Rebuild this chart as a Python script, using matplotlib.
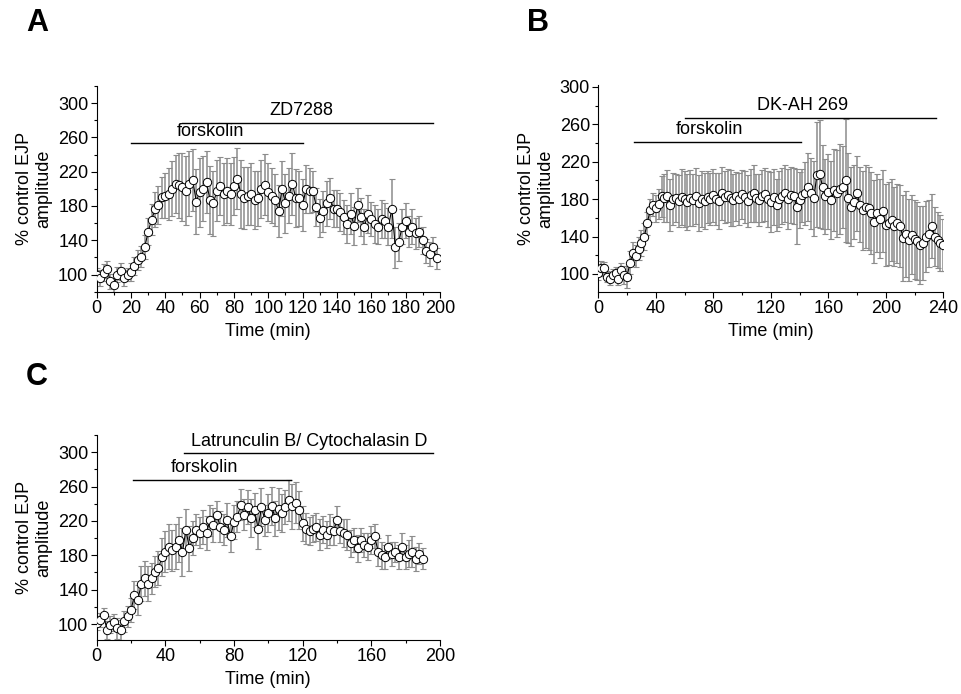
import numpy as np
import matplotlib
matplotlib.use('Agg')
import matplotlib.pyplot as plt
from matplotlib.ticker import MultipleLocator

plt.rcParams['font.family'] = ['Liberation Sans', 'DejaVu Sans']

# Panel A: forskolin + ZD7288 (sampled every 2 min)
a_time = np.arange(0, 200, 2)
a_mean = [100, 96, 102, 106, 92, 88, 100, 104, 96, 100,
          103, 110, 117, 121, 132, 150, 164, 176, 181, 190,
          192, 194, 200, 206, 204, 202, 198, 206, 210, 185,
          196, 200, 208, 187, 183, 198, 203, 194, 198, 194,
          203, 212, 194, 189, 192, 194, 187, 189, 200, 205,
          196, 192, 187, 174, 200, 183, 192, 206, 189, 189,
          181, 200, 198, 197, 179, 166, 174, 183, 189, 177,
          177, 173, 167, 159, 171, 157, 181, 167, 156, 171,
          165, 159, 156, 165, 163, 156, 177, 132, 138, 156,
          163, 150, 156, 148, 150, 140, 128, 124, 132, 119]
a_sem = [8, 9, 10, 10, 9, 8, 9, 10, 9, 8,
         10, 10, 12, 12, 14, 16, 18, 20, 22, 24,
         26, 30, 32, 34, 38, 40, 40, 38, 36, 38,
         40, 38, 36, 40, 38, 36, 34, 36, 38, 36,
         34, 36, 40, 36, 34, 36, 34, 32, 34, 36,
         34, 32, 30, 30, 32, 34, 32, 36, 34, 32,
         30, 28, 26, 24, 22, 22, 24, 26, 24, 22,
         22, 22, 20, 22, 24, 22, 20, 22, 20, 22,
         20, 22, 20, 22, 20, 22, 34, 24, 22, 20,
         20, 18, 20, 18, 18, 16, 14, 14, 12, 12]

# Panel B: forskolin + DK-AH 269
b_time = np.arange(0, 241, 2)
b_mean = [101, 106, 106, 97, 95, 99, 101, 95, 104, 99,
          97, 112, 122, 119, 127, 133, 140, 154, 168, 174,
          170, 175, 183, 181, 183, 174, 180, 181, 178, 182,
          180, 177, 181, 179, 183, 176, 180, 178, 182, 180,
          184, 180, 178, 186, 182, 184, 181, 179, 183, 180,
          185, 182, 178, 184, 186, 181, 179, 183, 185, 180,
          177, 182, 174, 180, 183, 186, 180, 184, 183, 172,
          179, 184, 186, 193, 186, 181, 206, 207, 193, 183,
          188, 179, 190, 186, 191, 193, 200, 181, 172, 177,
          186, 174, 168, 172, 170, 165, 156, 165, 159, 167,
          152, 154, 158, 151, 154, 151, 138, 143, 136, 142,
          137, 135, 131, 133, 140, 143, 151, 140, 136, 133,
          131]
b_sem = [8, 8, 7, 6, 7, 6, 6, 7, 8, 10,
         12, 12, 12, 12, 12, 14, 14, 12, 12, 12,
         14, 16, 22, 26, 28, 28, 28, 26, 28, 30,
         30, 30, 30, 28, 30, 30, 30, 30, 28, 28,
         28, 28, 30, 28, 28, 28, 30, 28, 26, 28,
         26, 28, 28, 28, 30, 26, 28, 28, 28, 30,
         32, 30, 28, 30, 30, 30, 32, 30, 30, 40,
         30, 28, 34, 36, 38, 40, 56, 58, 45, 40,
         40, 42, 44, 46, 48, 44, 66, 48, 42, 40,
         40, 40, 42, 44, 44, 44, 44, 42, 42, 44,
         44, 44, 44, 42, 42, 44, 46, 46, 44, 42,
         42, 42, 42, 40, 38, 36, 34, 32, 30, 30,
         28]

# Panel C: forskolin + Latrunculin B / Cytochalasin D
c_time = np.arange(0, 191, 2)
c_mean = [101, 105, 111, 93, 99, 102, 95, 93, 103, 109,
          116, 134, 128, 147, 153, 147, 153, 161, 165, 178,
          184, 190, 186, 190, 198, 184, 210, 188, 200, 210,
          206, 213, 206, 221, 215, 227, 213, 210, 221, 202,
          219, 225, 239, 227, 236, 223, 233, 211, 236, 221,
          229, 237, 223, 234, 229, 236, 244, 237, 241, 233,
          217, 211, 208, 211, 213, 204, 210, 204, 210, 208,
          221, 208, 206, 204, 194, 198, 188, 198, 192, 190,
          198, 202, 184, 180, 178, 190, 182, 184, 178, 190,
          178, 182, 184, 176, 182, 176]
c_sem = [8, 8, 8, 10, 10, 10, 12, 12, 12, 12,
         14, 16, 18, 20, 20, 20, 18, 18, 20, 22,
         24, 26, 24, 26, 26, 28, 24, 26, 20, 18,
         18, 20, 20, 18, 20, 16, 18, 18, 20, 18,
         20, 18, 18, 18, 20, 22, 20, 24, 22, 18,
         22, 22, 20, 24, 22, 20, 24, 26, 24, 22,
         20, 18, 16, 16, 16, 18, 16, 16, 18, 16,
         16, 14, 16, 18, 16, 14, 16, 14, 14, 16,
         16, 14, 16, 16, 14, 14, 14, 12, 14, 16,
         14, 16, 18, 14, 12, 12]

# treatment bars: (label, start, end, y of bar, x of label)
a_bars = [('forskolin', 20, 120, 253, 66), ('ZD7288', 50, 196, 277, 119)]
b_bars = [('forskolin', 25, 141, 241, 77), ('DK-AH 269', 60, 235, 267, 142)]
c_bars = [('forskolin', 21, 113, 268, 63),
          ('Latrunculin B/ Cytochalasin D', 51, 196, 299, 124)]

FS = 13


def draw_panel(ax, t, mean, sem, bars, xlim, ylim, xmajor, xminor):
    ax.errorbar(t, mean, yerr=sem, fmt='none', ecolor='0.55', elinewidth=1.1,
                capsize=2.2, capthick=0.8, zorder=1)
    ax.plot(t, mean, color='k', lw=0.8, zorder=2)
    ax.plot(t, mean, 'o', ms=6, mfc='white', mec='k', mew=0.7, zorder=3)
    for label, x0, x1, y, xt in bars:
        ax.plot([x0, x1], [y, y], color='k', lw=1, clip_on=False)
        ax.text(xt, y + 4, label, ha='center', va='bottom', fontsize=FS)
    ax.set_xlim(*xlim)
    ax.set_ylim(*ylim)
    ax.set_yticks([100, 140, 180, 220, 260, 300])
    ax.yaxis.set_minor_locator(MultipleLocator(20))
    ax.xaxis.set_major_locator(MultipleLocator(xmajor))
    ax.xaxis.set_minor_locator(MultipleLocator(xminor))
    ax.spines['top'].set_visible(False)
    ax.spines['right'].set_visible(False)
    ax.tick_params(which='major', direction='out', length=4, width=0.8,
                   labelsize=FS, pad=2)
    ax.tick_params(which='minor', direction='out', length=2.5, width=0.8)
    ax.set_xlabel('Time (min)', fontsize=FS, labelpad=4)
    ax.set_ylabel('% control EJP\namplitude', fontsize=FS, labelpad=4)


fig = plt.figure(figsize=(9.61, 6.94), dpi=100)
ax_a = fig.add_axes([0.1006, 0.5797, 0.3572, 0.2964])
ax_b = fig.add_axes([0.6226, 0.5797, 0.3590, 0.2978])
ax_c = fig.add_axes([0.1006, 0.0778, 0.3572, 0.2954])

draw_panel(ax_a, a_time, a_mean, a_sem, a_bars, (0, 200), (80, 320), 20, 10)
draw_panel(ax_b, b_time, b_mean, b_sem, b_bars, (0, 240), (81, 302), 40, 20)
draw_panel(ax_c, c_time, c_mean, c_sem, c_bars, (0, 200), (81.4, 320), 40, 20)

for letter, x, y in [('A', 37, 23), ('B', 538, 23), ('C', 37, 377)]:
    fig.text(x / 961, 1 - y / 694, letter, fontsize=22, fontweight='bold',
             ha='center', va='center')

fig.savefig('out.png', dpi=100)
